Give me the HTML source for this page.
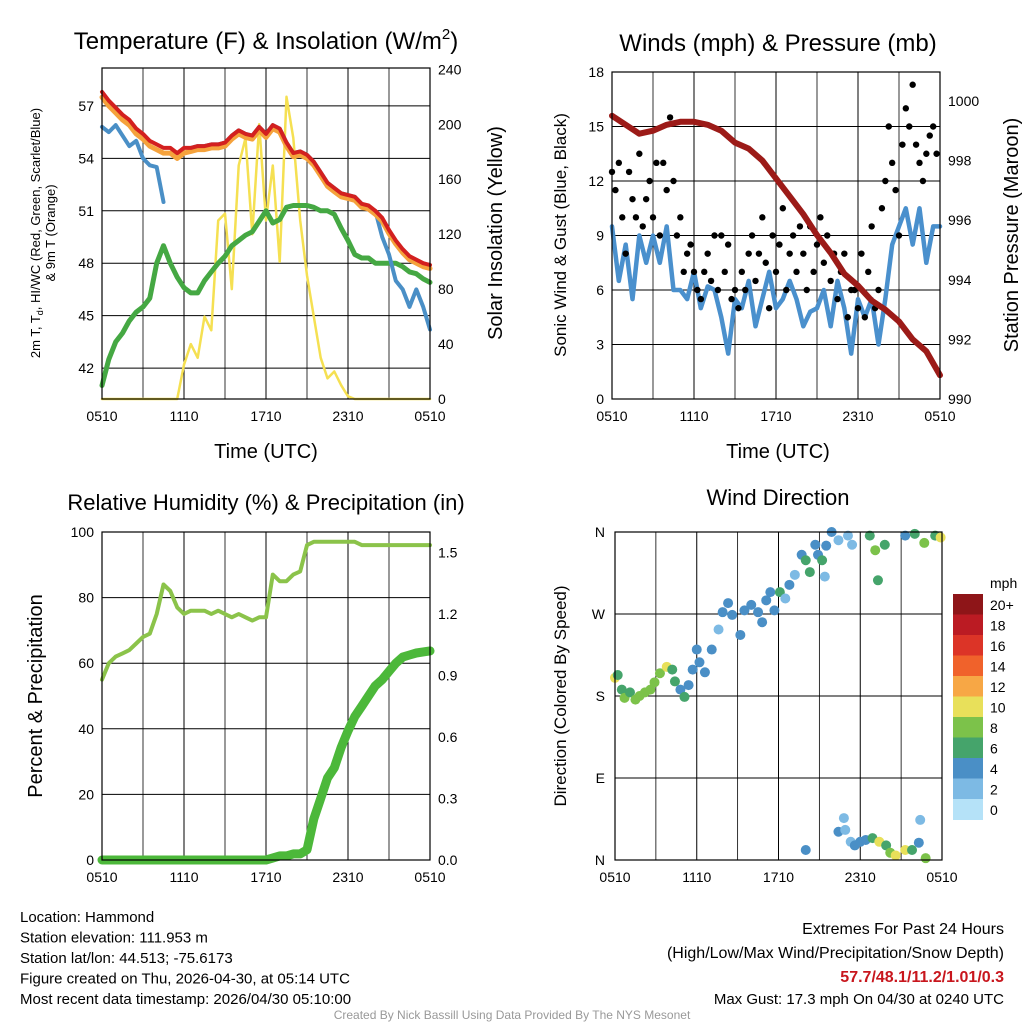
<!DOCTYPE html>
<html><head><meta charset="utf-8"><style>
html,body{margin:0;padding:0;background:#fff}
svg{display:block;font-family:"Liberation Sans",sans-serif}
</style></head><body>
<svg id="c" width="1024" height="1024" viewBox="0 0 1024 1024" xmlns="http://www.w3.org/2000/svg"></svg>
<script>
// ---------- DATA ----------
const xTickLabels = ["0510","1110","1710","2310","0510"];
const tempHours = [0,0.5,1,1.5,2,2.5,3,3.5,4,4.5,5,5.5,6,6.5,7,7.5,8,8.5,9,9.5,10,10.5,11,11.5,12,12.5,13,13.5,14,14.5,15,15.5,16,16.5,17,17.5,18,18.5,19,19.5,20,20.5,21,21.5,22,22.5,23,23.5,24];
const temp2m = [57.8,57.3,56.9,56.5,56.2,55.7,55.4,55.0,54.8,54.6,54.6,54.3,54.6,54.6,54.7,54.7,54.8,54.8,54.9,55.3,55.6,55.4,55.3,55.8,55.4,55.9,55.7,54.9,54.3,54.4,54.2,53.8,53.2,52.6,52.3,52.0,51.9,51.8,51.4,51.3,51.0,50.6,49.9,49.3,48.8,48.4,48.2,48.0,47.9];
const temp9m = [57.5,57.0,56.6,56.2,55.9,55.4,55.1,54.7,54.5,54.3,54.3,54.0,54.3,54.4,54.5,54.5,54.6,54.6,54.7,55.1,55.4,55.2,55.1,55.6,55.2,55.7,55.5,54.7,54.1,54.2,54.0,53.6,53.0,52.4,52.1,51.8,51.7,51.6,51.2,51.1,50.8,50.4,49.7,49.1,48.6,48.2,48.0,47.8,47.7];
const windChill = [55.8,55.5,55.9,55.3,54.7,55.0,54.0,53.6,53.5,51.5,null,53.5,null,54.6,54.7,54.7,54.8,54.8,54.9,55.3,55.6,55.4,55.3,55.8,55.4,55.9,55.7,54.9,54.3,54.4,54.2,53.8,53.2,52.6,52.3,52.0,51.9,51.8,51.4,51.2,51.0,49.5,48.5,47.0,46.5,45.5,46.5,45.5,44.2];
const dewPoint = [41.0,42.5,43.5,44.0,44.7,45.2,45.5,46.0,48.0,49.0,48.0,47.2,46.6,46.3,46.3,47.0,47.5,48.0,48.4,49.0,49.3,49.6,49.8,50.4,51.0,50.3,50.5,51.2,51.3,51.3,51.3,51.2,51.0,51.0,50.8,50.0,49.3,48.5,48.3,48.3,48.0,48.0,48.0,48.0,47.8,47.5,47.4,47.1,46.9];
const solar = [0,0,0,0,0,0,0,0,0,0,0,0,25,40,30,60,50,130,135,80,170,190,120,200,130,170,100,220,190,130,90,60,30,15,20,10,2,0,0,0,0,0,0,0,0,0,0,0,0];
const windSpeed = [9.5,6.5,8.5,5.5,9,7.5,9,7.5,9.5,6,6,5.5,7,5,6.2,6,4.5,2.5,5.5,5,6.5,4,5.5,7,5,5.5,6.5,5.5,4,4.8,5,6,4,6.5,5,2.5,5.5,4.5,5.5,3,5.5,8.5,9.5,10.5,8.5,10.5,7.5,9.5,9.5];
const gust = [12.5,11.5,13,10,8,12.5,11,10,13.5,9.5,11,12,10,13,9,13,11.5,15.5,12,9,10,7,8,8.5,7,6,5.5,7,8,6.5,9,6,9,7,8.5,5.5,6,5,7,6,8,9,6.5,8,10,7.5,5,9,7,8.5,10.5,6,8,9,7,9.5,8,6,9.5,7,8.5,10,7.5,9,6.5,8,5.5,7,8,4.5,6,6,5,8,4.5,7,9.5,5,6,10.5,12,15,13,11.5,9,14,16,15,17.3,14,13,12,13.5,14.5,15,13.5];
const pressure = [999.5,999.2,998.9,999.0,999.2,999.3,999.3,999.2,999.0,998.6,998.4,998.0,997.4,996.8,996.2,995.5,994.9,994.2,993.8,993.3,993.0,992.6,992.0,991.6,990.8];
const rh = [55,60,62,63,64,66,68,69,75,84,82,77,75,76,76,76,75,76,75,74,75,74,73,74,74,87,85,85,87,88,96,97,97,97,97,97,97,97,96,96,96,96,96,96,96,96,96,96,96];
const precip = [0,0,0,0,0,0,0,0,0,0,0,0,0,0,0,0,0,0,0,0,0,0,0,0,0,0.01,0.02,0.02,0.03,0.03,0.05,0.2,0.3,0.4,0.45,0.55,0.63,0.7,0.75,0.8,0.85,0.88,0.92,0.96,0.99,1.0,1.01,1.015,1.02];
const dirHours = [0,0.2,0.5,0.7,1.1,1.5,1.8,2.2,2.6,2.9,3.3,3.8,4.2,4.4,4.8,5.1,5.4,5.7,6.0,6.2,6.6,7.1,7.6,7.9,8.3,8.6,9.2,9.5,10.0,10.5,10.8,11.1,11.4,11.7,12.1,12.5,12.8,13.2,13.7,14.0,14.3,14.7,14.9,15.2,15.4,15.5,15.9,16.4,17.1,17.4,18.7,19.1,19.3,19.8,21.3,22.0,22.7,23.5,23.9,14.0,16.4,16.8,16.9,17.3,17.6,18.0,18.4,18.9,19.4,19.9,20.2,20.6,21.3,21.8,22.3,22.4,22.8];
const dirDeg = [200,203,187,178,184,176,180,184,187,195,205,212,209,196,187,179,192,209,231,217,206,231,253,272,282,269,247,274,280,272,261,285,294,274,294,287,302,313,335,329,316,346,335,329,311,345,360,351,356,346,356,340,307,346,356,358,348,356,354,11,31,46,33,20,16,20,22,24,20,16,8,5,11,11,19,44,2];
const dirSpeed = [10,6,6,8,6,8,8,8,8,8,8,10,6,6,4,6,4,4,4,4,4,4,2,4,4,4,4,4,4,4,4,4,4,4,6,2,4,2,4,6,6,4,4,6,2,4,4,2,2,2,6,8,6,6,4,6,8,6,10,4,4,2,2,2,4,4,4,6,10,6,8,10,10,6,4,2,8];
const cbarLabels = ["20+","18","16","14","12","10","8","6","4","2","0"];
const cbarColors = ["#8e1518","#bb1b23","#dc3427","#f0622b","#f7a745","#e8e05a","#7cc24a","#45a46b","#4a8fc6","#7dbae4","#b5e2f8"];

// ---------- HELPERS ----------
const NS="http://www.w3.org/2000/svg";
const svg=document.getElementById('c');
function el(tag,attrs,parent){const e=document.createElementNS(NS,tag);for(const k in attrs)e.setAttribute(k,attrs[k]);(parent||svg).appendChild(e);return e;}
function txt(s,x,y,size,anchor,extra,name){const t=el('text',Object.assign({x:x,y:y,'font-size':size,'text-anchor':anchor||'middle',fill:'#000'},extra||{}));t.textContent=s;


return t;}
function lin(d0,d1,r0,r1){return v=>r0+(v-d0)/(d1-d0)*(r1-r0);}
function linePath(xs,ys,xf,yf){let d='',pen=false;for(let i=0;i<xs.length;i++){if(ys[i]==null){pen=false;continue;}d+=(pen?'L':'M')+xf(xs[i]).toFixed(1)+','+yf(ys[i]).toFixed(1);pen=true;}return d;}
function drawLine(xs,ys,xf,yf,color,w,name){const p=el('path',{d:linePath(xs,ys,xf,yf),fill:'none',stroke:color,'stroke-width':w,'stroke-linejoin':'round','stroke-linecap':'round'});


return p;}
function frame(L,R,T,B,name){const r=el('rect',{x:L,y:T,width:R-L,height:B-T,fill:'none',stroke:'#000','stroke-width':1.2});

}
function vgrid(L,R,T,B,xf){for(let h=0;h<=24;h+=3){const x=xf(h);const l=el('line',{x1:x,x2:x,y1:T,y2:B,stroke:'#000','stroke-width':h%6==0?1:0.8});

}
for(let i=0;i<xTickLabels.length;i++)txt(xTickLabels[i],xf(i*6),B+22,14,'middle',{},'x-tick-label');}
function hgrid(L,R,ys){ys.forEach(y=>{const l=el('line',{x1:L,x2:R,y1:y,y2:y,stroke:'#000','stroke-width':1});

});}

// ---------- PANEL 1 ----------
(function(){
const L=102,R=430,T=68,B=399;
const xf=lin(0,24,L,R), yf=lin(40.23,59.17,B,T), ys=lin(0,241,B,T);
const tL=[42,45,48,51,54,57]; hgrid(L,R,tL.map(yf)); vgrid(L,R,T,B,xf);
tL.forEach(v=>txt(String(v),L-8,yf(v)+5,14,'end',{},'y-tick-label-left'));
[0,40,80,120,160,200,240].forEach(v=>txt(String(v),R+8,ys(v)+5,14,'start',{},'y-tick-label-right'));
drawLine(tempHours,solar,xf,ys,'#f5e052',2.5,'solar-insolation-line');
drawLine(tempHours,dewPoint,xf,yf,'#45a843',5,'dewpoint-line');
drawLine(tempHours,windChill,xf,yf,'#4a8fc6',4,'wind-chill-line');
drawLine(tempHours,temp9m,xf,yf,'#f5a23c',5,'temp-9m-line');
drawLine(tempHours,temp2m,xf,yf,'#d3201f',4,'temp-2m-line');
frame(L,R,T,B,'temperature-plot-area');
const t=txt('Temperature (F) & Insolation (W/m',266,49,24,'middle',{},'temperature-title');
const sp=el('tspan',{dy:-10,'font-size':15},t);sp.textContent='2';
const sp2=el('tspan',{dy:10},t);sp2.textContent=')';
txt('2m T, T',0,0,13,'middle',{transform:'translate(40,233) rotate(-90)'},'left-axis-title-line1').innerHTML='2m T, T<tspan font-size="9" dy="3">d</tspan><tspan dy="-3">, HI/WC (Red, Green, Scarlet/Blue)</tspan>';
txt('& 9m T (Orange)',0,0,13,'middle',{transform:'translate(55,233) rotate(-90)'},'left-axis-title-line2');
txt('Solar Insolation (Yellow)',0,0,20,'middle',{transform:'translate(502,233) rotate(-90)'},'right-axis-title');
txt('Time (UTC)',266,458,20,'middle',{},'x-axis-title');
})();

// ---------- PANEL 2 ----------
(function(){
const L=612,R=940,T=72,B=399;
const xf=lin(0,24,L,R), yf=lin(0,18,B,T), pf=lin(990,1000.97,B,T);
const ticks=[0,3,6,9,12,15,18]; hgrid(L,R,ticks.map(yf)); vgrid(L,R,T,B,xf);
ticks.forEach(v=>txt(String(v),L-8,yf(v)+5,14,'end',{},'y-tick-label-left'));
[990,992,994,996,998,1000].forEach(v=>txt(String(v),R+8,pf(v)+5,14,'start',{},'y-tick-label-right'));
drawLine(tempHours,windSpeed,xf,yf,'#4a90cd',4.5,'wind-speed-line');
const gh=gust.map((_,i)=>i*0.25);
gust.forEach((g,i)=>{const c=el('circle',{cx:xf(gh[i]),cy:yf(g),r:3.2,fill:'#000'});

});
const ph=pressure.map((_,i)=>i);
drawLine(ph,pressure,xf,pf,'#9c1b18',6,'pressure-line');
frame(L,R,T,B,'wind-plot-area');
txt('Winds (mph) & Pressure (mb)',778,51,24,'middle',{},'winds-title');
txt('Sonic Wind & Gust (Blue, Black)',0,0,17,'middle',{transform:'translate(566,235) rotate(-90)'},'left-axis-title');
txt('Station Pressure (Maroon)',0,0,20,'middle',{transform:'translate(1018,235) rotate(-90)'},'right-axis-title');
txt('Time (UTC)',778,458,20,'middle',{},'x-axis-title');
})();

// ---------- PANEL 3 ----------
(function(){
const L=102,R=430,T=532,B=860;
const xf=lin(0,24,L,R), yf=lin(0,100,B,T), pf=lin(0,1.6,B,T);
const ticks=[0,20,40,60,80,100]; hgrid(L,R,ticks.map(yf)); vgrid(L,R,T,B,xf);
ticks.forEach(v=>txt(String(v),L-8,yf(v)+5,14,'end',{},'y-tick-label-left'));
[0,0.3,0.6,0.9,1.2,1.5].forEach(v=>txt(v.toFixed(1),R+8,pf(v)+5,14,'start',{},'y-tick-label-right'));
drawLine(tempHours,rh,xf,yf,'#8bc34a',4,'relative-humidity-line');
drawLine(tempHours,precip,xf,pf,'#4cb83a',9,'precipitation-line');
frame(L,R,T,B,'humidity-plot-area');
txt('Relative Humidity (%) & Precipitation (in)',266,510,22,'middle',{},'humidity-title');
txt('Percent & Precipitation',0,0,20,'middle',{transform:'translate(42,696) rotate(-90)'},'left-axis-title');
})();

// ---------- PANEL 4 ----------
(function(){
const L=615,R=942,T=532,B=860;
const xf=lin(0,24,L,R), yf=lin(0,360,B,T);
const dl=['N','E','S','W','N']; hgrid(L,R,[0,90,180,270,360].map(yf)); vgrid(L,R,T,B,xf);
dl.forEach((s,i)=>txt(s,L-10,yf(i*90)+5,14,'end',{},'direction-tick-label'));
function col(s){let i=Math.min(10,Math.floor(s/2));return cbarColors[10-i];}
dirHours.forEach((h,i)=>{const c=el('circle',{cx:xf(h),cy:yf(dirDeg[i]),r:5,fill:col(dirSpeed[i])});

});
frame(L,R,T,B,'direction-plot-area');
txt('Wind Direction',778,505,22,'middle',{},'wind-direction-title');
txt('Direction (Colored By Speed)',0,0,17,'middle',{transform:'translate(566,696) rotate(-90)'},'left-axis-title');
// colorbar
const cx=953,cw=30,ct=594,ch=20.5;
txt('mph',990,588,14,'start',{},'colorbar-unit');
cbarColors.forEach((c,i)=>{const r=el('rect',{x:cx,y:ct+i*ch,width:cw,height:ch+0.5,fill:c});


txt(cbarLabels[i],990,ct+i*ch+16,14,'start',{},'colorbar-label');});
})();

// ---------- FOOTER ----------
["Location: Hammond","Station elevation: 111.953 m","Station lat/lon: 44.513; -75.6173","Figure created on Thu, 2026-04-30, at 05:14 UTC","Most recent data timestamp: 2026/04/30 05:10:00"].forEach((s,i)=>txt(s,20,922+i*20.5,15,'start',{},'station-info-line'));
txt('Extremes For Past 24 Hours',1004,934,16,'end',{},'extremes-heading');
txt('(High/Low/Max Wind/Precipitation/Snow Depth)',1004,958,16,'end',{},'extremes-subheading');
txt('57.7/48.1/11.2/1.01/0.3',1004,982,16,'end',{fill:'#c8161d','font-weight':'bold'},'extremes-values');
txt('Max Gust: 17.3 mph On 04/30 at 0240 UTC',1004,1004,15,'end',{},'max-gust');
txt('Created By Nick Bassill Using Data Provided By The NYS Mesonet',512,1019,12,'middle',{fill:'#999'},'credit');
</script>
</body></html>
